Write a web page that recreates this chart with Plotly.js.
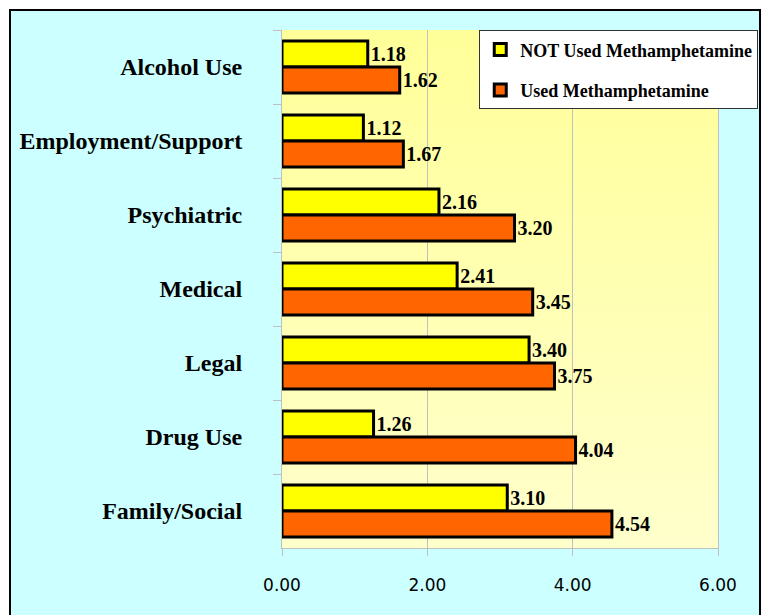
<!DOCTYPE html>
<html>
<head>
<meta charset="utf-8">
<script src="https://cdn.plot.ly/plotly-3.0.1.min.js"></script>
<style>
  body { margin: 0; background: #fff; }
  #chart {
    position: absolute;
    left: 9px;
    top: 9px;
    width: 748px;
    height: 606px;
    border: 2px solid #000;
  }
</style>
</head>
<body>
<div id="chart"></div>
<script>
// Categorias (de cima para baixo)
const categorias = ['Alcohol Use', 'Employment/Support', 'Psychiatric', 'Medical', 'Legal', 'Drug Use', 'Family/Social'];
const naoUsou = [1.18, 1.12, 2.16, 2.41, 3.40, 1.26, 3.10];
const usou = [1.62, 1.67, 3.20, 3.45, 3.75, 4.04, 4.54];
const ticksX = [0, 2, 4, 6];
const ticksXTexto = ['0.00', '2.00', '4.00', '6.00'];

const fonteSerif = 'Liberation Serif';

// Gradiente do fundo da área do gráfico
const gradiente = 'data:image/svg+xml;utf8,' + encodeURIComponent(
    '<svg xmlns="http://www.w3.org/2000/svg" width="10" height="100" preserveAspectRatio="none">' +
    '<defs><linearGradient id="g" x1="0" y1="0" x2="0" y2="1">' +
    '<stop offset="0" stop-color="#FFFF99"/><stop offset="1" stop-color="#FFFFCC"/>' +
    '</linearGradient></defs><rect width="10" height="100" fill="url(#g)"/></svg>'
);

const trace1 = {
    y: categorias,
    x: naoUsou,
    type: 'bar',
    orientation: 'h',
    name: 'NOT Used Methamphetamine',
    legendgroup: 'a',
    text: naoUsou.map(v => v.toFixed(2)),
    textposition: 'outside',
    cliponaxis: false,
    textfont: { family: fonteSerif, size: 20, color: '#000', weight: 'bold' },
    marker: { color: '#FFFF00', line: { color: '#000', width: 3 } },
    hoverinfo: 'x+name'
};

const trace2 = {
    y: categorias,
    x: usou,
    type: 'bar',
    orientation: 'h',
    name: 'Used Methamphetamine',
    legendgroup: 'b',
    text: usou.map(v => v.toFixed(2)),
    textposition: 'outside',
    cliponaxis: false,
    textfont: { family: fonteSerif, size: 20, color: '#000', weight: 'bold' },
    marker: { color: '#FF6600', line: { color: '#000', width: 3 } },
    hoverinfo: 'x+name'
};

const layout = {
    width: 748,
    height: 606,
    margin: { l: 271, r: 41, t: 19, b: 69, autoexpand: false },
    paper_bgcolor: '#CCFFFF',
    plot_bgcolor: 'rgba(0,0,0,0)',
    barmode: 'group',
    bargap: 0.3,
    bargroupgap: 0,
    showlegend: true,
    legend: {
        xref: 'container',
        yref: 'container',
        x: 0.626,
        y: 0.968,
        xanchor: 'left',
        yanchor: 'top',
        bgcolor: '#FFFFFF',
        bordercolor: '#333',
        borderwidth: 1,
        traceorder: 'grouped',
        tracegroupgap: 14,
        itemwidth: 30,
        font: { family: 'Liberation Serif', size: 18, color: '#000', weight: 'bold' }
    },
    xaxis: {
        range: [0, 6],
        tickvals: ticksX,
        ticktext: ticksXTexto,
        showgrid: true,
        gridcolor: '#C0C0C0',
        gridwidth: 1,
        zeroline: false,
        showline: true,
        linecolor: '#C0C0C0',
        linewidth: 1,
        ticks: 'outside',
        ticklen: 7,
        tickcolor: '#C0C0C0',
        ticklabelstandoff: 15,
        tickfont: { family: 'DejaVu Sans, sans-serif', size: 17, color: '#000' },
        fixedrange: true
    },
    yaxis: {
        autorange: 'reversed',
        type: 'category',
        showgrid: false,
        zeroline: false,
        showline: true,
        mirror: true,
        linecolor: '#C0C0C0',
        linewidth: 1,
        ticks: 'outside',
        tickson: 'boundaries',
        ticklen: 8,
        tickcolor: '#C0C0C0',
        ticklabelstandoff: 34,
        tickfont: { family: fonteSerif, size: 24, color: '#000', weight: 'bold' },
        fixedrange: true
    },
    images: [{
        source: gradiente,
        xref: 'paper',
        yref: 'paper',
        x: 0,
        y: 1,
        sizex: 1,
        sizey: 1,
        sizing: 'stretch',
        layer: 'below'
    }]
};

Plotly.newPlot('chart', [trace1, trace2], layout, { displayModeBar: false });
</script>
</body>
</html>
